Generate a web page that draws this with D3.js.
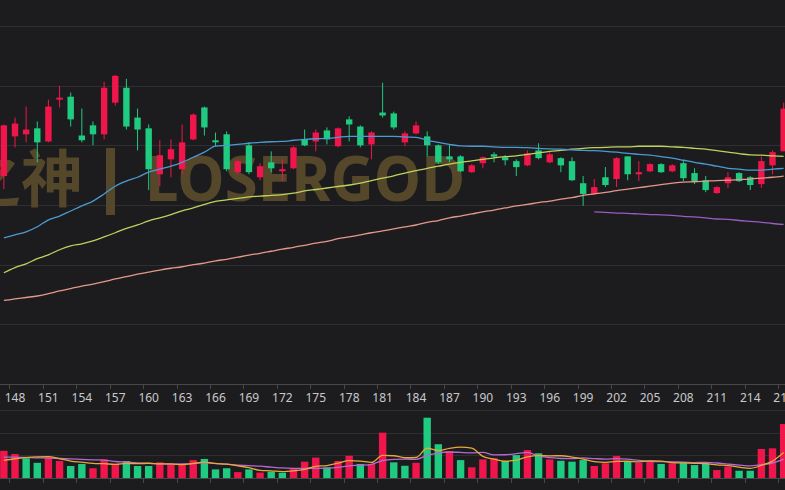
<!DOCTYPE html>
<html>
<head>
<meta charset="utf-8">
<script src="https://cdn.jsdelivr.net/npm/d3@7"></script>
<style>
body{margin:0;background:#1c1c1e;overflow:hidden}
svg{display:block}
</style>
</head>
<body>
<div id="chart-area"></div>
<script>
// day numbers on the category axis (visible window only)
var categories = [147,148,149,150,151,152,153,154,155,156,157,158,159,160,161,162,163,164,165,166,
	167,168,169,170,171,172,173,174,175,176,177,178,179,180,181,182,183,184,185,186,
	187,188,189,190,191,192,193,194,195,196,197,198,199,200,201,202,203,204,205,206,
	207,208,209,210,211,212,213,214,215,216,217]

var opens = [16.97,18.30,18.37,18.57,18.13,19.53,19.63,18.33,18.67,18.37,
	19.43,19.93,18.93,18.57,17.03,17.53,17.20,18.20,19.27,18.17,
	18.37,17.10,18.00,16.93,17.43,17.13,17.23,18.20,18.13,18.50,
	17.97,18.87,18.63,18.03,19.10,19.07,18.10,18.40,18.30,18.00,
	17.63,17.63,17.10,17.40,17.70,17.60,17.47,17.33,17.83,17.43,
	17.57,17.47,16.73,16.37,16.93,16.87,17.63,17.03,17.13,17.37,
	17.13,17.40,17.07,16.83,16.40,16.73,17.07,16.93,16.70,17.33,
	17.80]
var closes = [18.67,18.73,18.53,18.10,19.30,19.60,18.87,18.17,18.37,19.93,
	20.33,18.63,18.53,17.20,17.67,17.87,18.10,19.03,18.60,18.10,
	17.20,17.47,17.10,17.30,17.23,17.20,17.93,18.00,18.43,18.20,
	18.57,18.70,18.00,18.43,19.00,18.60,18.40,18.67,18.00,17.43,
	17.53,17.13,17.33,17.60,17.62,17.50,17.27,17.73,17.57,17.70,
	17.33,16.83,16.37,16.60,16.67,17.57,17.03,17.10,17.37,17.10,
	17.33,16.90,16.80,16.50,16.60,16.93,16.80,16.67,17.47,17.77,
	19.23]
var highs = [18.70,18.93,19.30,18.80,19.53,20.00,19.77,19.23,18.80,20.13,
	20.36,20.23,19.23,18.70,18.17,18.20,18.70,19.07,19.30,18.43,
	18.47,17.53,18.10,17.40,17.80,17.53,17.97,18.53,18.53,18.60,
	18.60,18.97,18.67,18.47,20.10,19.13,18.47,18.80,18.47,18.03,
	18.03,17.67,17.37,17.63,17.77,17.67,17.53,17.83,18.07,17.77,
	17.60,17.60,16.97,16.87,17.27,17.60,17.63,17.47,17.40,17.40,
	17.37,17.47,17.23,16.97,16.63,17.10,17.10,16.97,17.63,17.83,
	19.43]
var lows = [16.53,17.93,18.10,17.43,18.10,19.27,18.63,18.10,18.00,18.20,
	19.33,18.53,17.83,16.50,16.63,16.93,17.03,18.17,18.33,17.97,
	17.13,17.03,17.03,16.83,17.10,16.80,17.20,17.97,17.80,18.03,
	17.93,18.13,17.93,17.53,18.93,18.53,17.97,18.37,17.63,17.37,
	17.43,17.10,17.07,17.23,17.43,17.33,16.97,17.30,17.53,17.40,
	17.10,16.80,15.97,16.33,16.60,16.60,16.83,16.80,17.10,17.07,
	17.10,16.80,16.70,16.43,16.37,16.57,16.77,16.50,16.57,17.03,
	17.80]
var volumes = [120,106,87,67,91,75,53,62,43,82,
	62,75,53,53,69,60,60,79,84,38,
	43,26,38,24,28,23,43,72,90,47,
	75,98,62,62,200,69,54,67,266,149,
	119,79,47,82,87,75,101,123,109,82,
	76,72,79,53,65,97,75,67,72,62,
	65,67,57,65,35,50,32,32,128,131,
	238]

// moving averages on the price panel
var maBlue = [14.90,15.00,15.10,15.27,15.50,15.63,15.80,15.97,16.13,16.37,
	16.63,16.80,16.93,17.10,17.20,17.30,17.43,17.60,17.77,17.97,
	18.00,18.03,18.07,18.10,18.12,18.13,18.17,18.20,18.22,18.23,
	18.27,18.30,18.30,18.30,18.30,18.30,18.28,18.27,18.17,18.10,
	18.03,17.98,17.97,17.97,17.95,17.93,17.93,17.92,17.90,17.88,
	17.87,17.85,17.83,17.82,17.80,17.77,17.73,17.70,17.67,17.62,
	17.57,17.50,17.43,17.37,17.30,17.23,17.20,17.17,17.17,17.20,
	17.23]
var maYellow = [13.73,13.90,14.03,14.20,14.33,14.50,14.63,14.70,14.80,14.93,
	15.07,15.22,15.33,15.47,15.57,15.68,15.80,15.90,16.02,16.12,
	16.17,16.22,16.27,16.30,16.32,16.35,16.40,16.47,16.52,16.57,
	16.62,16.67,16.73,16.82,16.90,16.98,17.07,17.15,17.23,17.30,
	17.37,17.43,17.48,17.53,17.58,17.62,17.65,17.70,17.75,17.80,
	17.83,17.87,17.90,17.92,17.93,17.95,17.95,17.97,17.97,17.97,
	17.95,17.93,17.90,17.87,17.82,17.77,17.72,17.68,17.67,17.65,
	17.63]
var maSalmon = [12.80,12.85,12.90,12.95,13.03,13.12,13.20,13.28,13.35,13.43,
	13.52,13.60,13.68,13.75,13.82,13.88,13.93,14.00,14.05,14.13,
	14.18,14.25,14.32,14.38,14.45,14.52,14.58,14.65,14.72,14.78,
	14.87,14.93,15.00,15.07,15.13,15.20,15.27,15.33,15.42,15.48,
	15.57,15.63,15.70,15.77,15.83,15.90,15.97,16.02,16.08,16.13,
	16.20,16.25,16.32,16.37,16.42,16.48,16.53,16.58,16.63,16.68,
	16.73,16.77,16.78,16.80,16.82,16.83,16.85,16.87,16.90,16.93,
	16.97]
// the long average only starts at day 200
var maPurpleStart = 200
var maPurple = [15.77,15.75,15.73,15.72,15.70,15.68,15.67,15.65,15.62,15.60,
	15.57,15.53,15.52,15.48,15.45,15.42,15.38,15.35]

// moving averages on the volume panel
var volMa5 = [78,85,90,93,94.2,85.2,74.6,69.6,64.8,63,
	60.4,64.8,63,65,62.4,62,59,64.2,70.4,64.2,
	60.8,54,45.8,33.8,31.8,27.8,31.2,38,51.2,55,
	65.4,76.4,74.4,68.8,99.4,98.2,89.4,90.4,131.2,121,
	131,136,132,95.2,82.8,74,78.4,93.6,99,98,
	98.2,92.4,83.6,72.4,69,73.2,73.8,71.4,75.2,74.6,
	68.2,66.6,64.6,63.2,57.8,54.8,47.8,42.8,55.4,74.6,
	112.2]
var volMa10 = [92,92,91,89,88,86,84,82,80,78.6,
	72.8,69.7,66.3,64.9,62.7,61.2,61.9,63.6,67.7,63.3,
	61.4,56.5,55,52.1,48,44.3,42.6,41.9,42.5,43.4,
	46.6,53.8,56.2,60,77.2,81.8,82.9,82.4,100,110.2,
	114.6,112.7,111.2,113.2,101.9,102.5,107.2,112.8,97.1,90.4,
	86.1,85.4,88.6,85.7,83.5,85.7,83.1,77.5,73.8,71.8,
	70.7,70.2,68,69.2,66.2,61.5,57.2,53.7,59.3,66.2,
	83.5]

var xLabels = [148,151,154,157,160,163,166,169,172,175,178,181,184,187,190,193,196,199,202,205,208,211,214,217]
var priceTicks = [12,14,16,18,20,22]
var volTicks = [100,200,300]

var UP = '#f0164b', DOWN = '#1ecb80'
var BG = '#1c1c1e', GRID = '#2f2f32', AXIS = '#48484b'

var width = 785, height = 490

var svg = d3.select('#chart-area').append('svg')
	.attr('width', width)
	.attr('height', height)
	.style('background', BG)

// the window shows day 147 at the left edge, each day is ~11.14px wide
var step = 11.14
var xStart = 3.86 - step/2
var xScale = d3.scaleBand()
	.domain(categories)
	.range([xStart, xStart + step*categories.length])
	.padding(0)
var cx = function(c){ return xScale(c) + xScale.bandwidth()/2 }

var yScale = d3.scaleLinear().domain([10, 22]).range([384, 26])
var volScale = d3.scaleLinear().domain([0, 300]).range([478, 410])

var rows = categories.map(function(c, i){
	return {
		cat: c, open: opens[i], close: closes[i], high: highs[i], low: lows[i], vol: volumes[i],
		up: closes[i] >= opens[i],
		// volume colour follows the change against the previous close
		volUp: i == 0 ? closes[i] >= opens[i] : closes[i] >= closes[i-1]
	}
})

//grid lines
svg.append('g').selectAll('line')
	.data(priceTicks)
	.enter().append('line')
	.attr('x1', 0).attr('x2', width)
	.attr('y1', function(d){ return Math.round(yScale(d)) + 0.5 })
	.attr('y2', function(d){ return Math.round(yScale(d)) + 0.5 })
	.attr('stroke', GRID)

svg.append('g').selectAll('line')
	.data(volTicks)
	.enter().append('line')
	.attr('x1', 0).attr('x2', width)
	.attr('y1', function(d){ return Math.round(volScale(d)) + 0.5 })
	.attr('y2', function(d){ return Math.round(volScale(d)) + 0.5 })
	.attr('stroke', GRID)

//watermark
var wm = svg.append('g')
	.attr('fill', '#55472a')
	.attr('font-weight', 'bold')
	.attr('font-size', '62px')
wm.append('text')
	.attr('x', 83).attr('y', 202)
	.attr('text-anchor', 'end')
	.attr('font-family', '"Noto Sans CJK SC", sans-serif')
	.text('之神')
wm.append('rect')
	.attr('x', 106).attr('y', 148)
	.attr('width', 9).attr('height', 67)
wm.append('text')
	.attr('x', 145).attr('y', 201)
	.attr('font-family', '"Noto Sans", sans-serif')
	.attr('textLength', 320)
	.attr('lengthAdjust', 'spacingAndGlyphs')
	.text('LOSERGOD')

//x axis lines and boundary ticks
;[384, 478].forEach(function(yy){
	svg.append('line')
		.attr('x1', 0).attr('x2', width)
		.attr('y1', yy + 0.5).attr('y2', yy + 0.5)
		.attr('stroke', AXIS)
	svg.append('g').selectAll('line')
		.data(xLabels)
		.enter().append('line')
		.attr('x1', function(d){ return Math.round(xScale(d)) + 0.5 })
		.attr('x2', function(d){ return Math.round(xScale(d)) + 0.5 })
		.attr('y1', yy).attr('y2', yy + 5)
		.attr('stroke', AXIS)
})

var xAxis = d3.axisBottom(xScale)
	.tickValues(xLabels)
	.tickSize(0)
	.tickPadding(9)
var axisG = svg.append('g')
	.attr('transform', 'translate(0,384)')
	.call(xAxis)
axisG.select('.domain').remove()
axisG.selectAll('text')
	.attr('fill', '#c9c9cc')
	.attr('font-size', '12px')
	.attr('font-family', '"Noto Sans", sans-serif')

//candles
var candle = svg.append('g').selectAll('g')
	.data(rows)
	.enter().append('g')

candle.append('line')
	.attr('x1', function(d){ return cx(d.cat) })
	.attr('x2', function(d){ return cx(d.cat) })
	.attr('y1', function(d){ return yScale(d.high) })
	.attr('y2', function(d){ return yScale(d.low) })
	.attr('stroke', function(d){ return d.up ? UP : DOWN })
	.attr('stroke-width', 1)

var bodyW = 6.4
candle.append('rect')
	.attr('x', function(d){ return cx(d.cat) - bodyW/2 })
	.attr('width', bodyW)
	.attr('y', function(d){ return yScale(Math.max(d.open, d.close)) })
	.attr('height', function(d){ return Math.max(1.2, Math.abs(yScale(d.open) - yScale(d.close))) })
	.attr('fill', function(d){ return d.up ? UP : DOWN })

//volume bars
var volW = 7.4
svg.append('g').selectAll('rect')
	.data(rows)
	.enter().append('rect')
	.attr('x', function(d){ return cx(d.cat) - volW/2 })
	.attr('width', volW)
	.attr('y', function(d){ return volScale(d.vol) })
	.attr('height', function(d){ return volScale(0) - volScale(d.vol) })
	.attr('fill', function(d){ return d.volUp ? UP : DOWN })

//MA lines
var drawLine = function(cats, values, scale, color){
	var line = d3.line()
		.x(function(d, i){ return cx(cats[i]) })
		.y(function(d){ return scale(d) })
		.curve(d3.curveMonotoneX)
	svg.append('path')
		.datum(values)
		.attr('d', line)
		.attr('fill', 'none')
		.attr('stroke', color)
		.attr('stroke-width', 1.3)
}

drawLine(categories, maSalmon, yScale, '#e4988a')
drawLine(categories, maYellow, yScale, '#bdd35c')
drawLine(categories, maBlue, yScale, '#4a9bd2')
drawLine(categories.filter(function(c){ return c >= maPurpleStart }), maPurple, yScale, '#9a5cc2')

drawLine(categories, volMa10, volScale, '#b36ad6')
drawLine(categories, volMa5, volScale, '#e8a838')
</script>
</body>
</html>
